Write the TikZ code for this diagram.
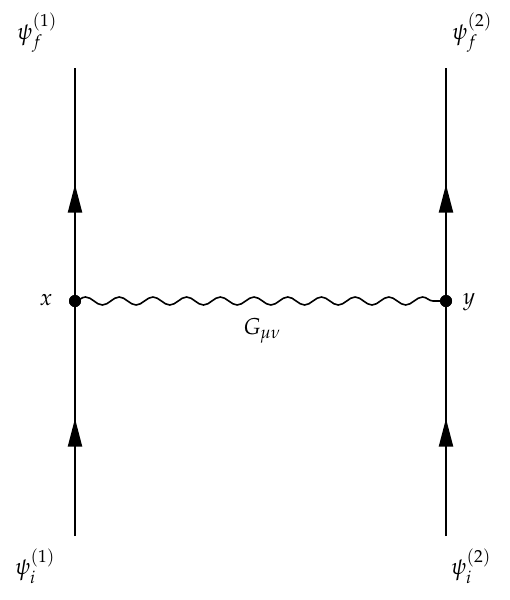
\documentclass[tikz,border=0pt]{standalone}
\usepackage{mathpazo}
\usetikzlibrary{decorations.pathmorphing,decorations.markings,arrows.meta}
\begin{document}
\begin{tikzpicture}[x=1pt,y=-1pt,
  fermion/.style={line width=2pt,postaction={decorate},decoration={markings,mark=at position 0.5 with {\arrow{Triangle[length=28pt,width=14pt]}}}},
  photon/.style={line width=1.6pt,decorate,decoration={snake,amplitude=4pt,segment length=33.7pt}},
  vtx/.style={circle,fill=black,inner sep=0pt,minimum size=12pt},
  lbl/.style={font=\fontsize{23}{27}\selectfont}]
\useasboundingbox (0,0) rectangle (509,600);
\node[vtx] (x) at (75,301) {};
\node[vtx] (y) at (446,301) {};
\coordinate (a1) at (75,536);
\coordinate (b1) at (75,68);
\coordinate (a2) at (446,536);
\coordinate (b2) at (446,68);
\draw[fermion] (a1) -- (x.center);
\draw[fermion] (x.center) -- (b1);
\draw[fermion] (a2) -- (y.center);
\draw[fermion] (y.center) -- (b2);
\draw[photon] (x.center) -- (y.center);
\node[vtx] at (x) {};
\node[vtx] at (y) {};
\node[lbl] (lx) at (46,300) {$x$};
\node[lbl] (ly) at (469,302) {$y$};
\node[lbl] (lg) at (262,331) {$G_{\mu\nu}$};
\node[lbl] (f1) at (37,33) {$\psi_f^{(1)}$};
\node[lbl] (f2) at (472,33) {$\psi_f^{(2)}$};
\node[lbl] (i1) at (35,566) {$\psi_i^{(1)}$};
\node[lbl] (i2) at (471,566) {$\psi_i^{(2)}$};
\end{tikzpicture}
\end{document}
